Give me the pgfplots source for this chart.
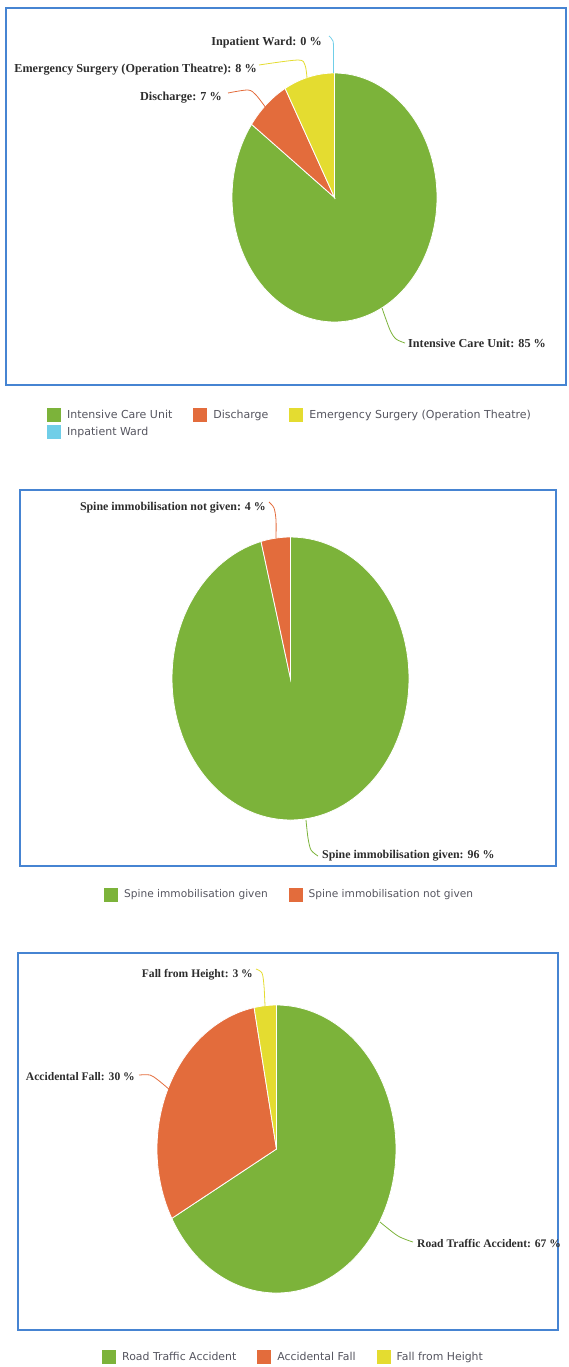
\documentclass[border=0pt]{standalone}
\usepackage{pgfplots}
\pgfplotsset{compat=1.18}
\usepackage{fontspec}
\setmainfont{Liberation Serif}
\newfontfamily\legfont{DejaVu Sans}

\definecolor{cGreen}{RGB}{124,179,58}
\definecolor{cOrange}{RGB}{227,108,60}
\definecolor{cYellow}{RGB}{228,220,48}
\definecolor{cCyan}{RGB}{112,206,232}
\definecolor{cBorder}{RGB}{70,132,210}
\definecolor{labtext}{RGB}{45,45,45}
\definecolor{legtext}{RGB}{85,85,95}

\newcommand{\lab}{\bfseries\fontsize{\labsize}{14}\selectfont}
% one slice: colour, start %, end %  (clockwise from 12 o'clock)
\newcommand{\slice}[3]{%
  \addplot[fill=#1, draw=white, line width=0.8pt, domain=#2*3.6:#3*3.6,
    samples=120, variable=\t]
    ({\cx+\rx*sin(\t)}, {\cy-\ry*cos(\t)}) -- (axis cs:\cx,\cy) -- cycle;}

\tikzset{lbl/.style={font=\lab, text=labtext, inner sep=0pt}}
\pgfplotsset{
  panel/.style={
    width=569pt, scale only axis, hide axis, clip=false,
    xmin=0, xmax=569, y dir=reverse, enlargelimits=false,
    anchor=north west,
    legend cell align=left,
    legend image code/.code={\path[##1,draw=none] (0pt,-7pt) rectangle (14pt,7pt);},
    legend style={draw=none, fill=none, anchor=north west, text=legtext,
      /tikz/every odd column/.append style={column sep=4pt},
      /tikz/every even column/.append style={column sep=19pt},
      row sep=3pt, inner sep=0pt},
  },
  lead/.style={forget plot, line width=0.8pt, smooth},
}

\begin{document}
\begin{tikzpicture}
\useasboundingbox (0,0) rectangle (569pt,-1367pt);

% ---------- chart 1: destination ----------
\def\cx{334.5}\def\cy{197.5}\def\rx{102.5}\def\ry{124.5}\def\labsize{12.2}
\begin{axis}[panel, at={(0pt,0pt)}, height=470pt, ymin=0, ymax=470,
  legend columns=3, legend style={at={(axis cs:47,408)},
    font=\legfont\fontsize{11}{12}\selectfont}]
  \draw[cBorder, line width=2pt] (axis cs:6,8) rectangle (axis cs:566,385);
  \slice{cGreen}{0}{85}   \addlegendentry{Intensive Care Unit}
  \slice{cOrange}{85}{92} \addlegendentry{Discharge}
  \slice{cYellow}{92}{100}\addlegendentry{Emergency Surgery (Operation Theatre)}
  \addlegendimage{fill=cCyan}\addlegendentry{Inpatient Ward}
  \addplot[lead, cCyan] coordinates {(329,36) (333,41) (333.5,52) (333.5,73)};
  \addplot[lead, cYellow] coordinates {(259,65) (298,60) (305,65) (307,78)};
  \addplot[lead, cOrange] coordinates {(228,93) (248,90) (256,95) (266,108)};
  \addplot[lead, cGreen] coordinates {(382,308) (390,330) (396,339) (405,343)};
  \node[lbl, anchor=east] at (axis cs:322,42.5) {Inpatient Ward: 0 \%};
  \node[lbl, anchor=east] at (axis cs:257,70) {Emergency Surgery (Operation Theatre): 8 \%};
  \node[lbl, anchor=east] at (axis cs:222,98) {Discharge: 7 \%};
  \node[lbl, anchor=west] at (axis cs:408,343.5) {Intensive Care Unit: 85 \%};
\end{axis}

% ---------- chart 2: spine immobilisation ----------
\def\cx{290.5}\def\cy{678.5}\def\rx{118.5}\def\ry{141.5}\def\labsize{11.9}
\begin{axis}[panel, at={(0pt,-470pt)}, height=460pt, ymin=470, ymax=930,
  legend columns=2, legend style={at={(axis cs:104,887.5)},
    font=\legfont\fontsize{10.6}{12}\selectfont}]
  \draw[cBorder, line width=2pt] (axis cs:20,490) rectangle (axis cs:556,866);
  \slice{cGreen}{0}{96}    \addlegendentry{Spine immobilisation given}
  \slice{cOrange}{96}{100} \addlegendentry{Spine immobilisation not given}
  \addplot[lead, cOrange] coordinates {(269,502) (274,508) (276,520) (276,538)};
  \addplot[lead, cGreen] coordinates {(306,820) (308,838) (311,850) (318,856)};
  \node[lbl, anchor=east] at (axis cs:266,508) {Spine immobilisation not given: 4 \%};
  \node[lbl, anchor=west] at (axis cs:322,856) {Spine immobilisation given: 96 \%};
\end{axis}

% ---------- chart 3: mechanism of injury ----------
\def\cx{276.5}\def\cy{1149}\def\rx{119.5}\def\ry{144}\def\labsize{11.6}
\begin{axis}[panel, at={(0pt,-930pt)}, height=437pt, ymin=930, ymax=1367,
  legend columns=3, legend style={at={(axis cs:102,1350)},
    font=\legfont\fontsize{10.9}{12}\selectfont}]
  \draw[cBorder, line width=2pt] (axis cs:18,953) rectangle (axis cs:558,1330);
  \slice{cGreen}{0}{67}    \addlegendentry{Road Traffic Accident}
  \slice{cOrange}{67}{97}  \addlegendentry{Accidental Fall}
  \slice{cYellow}{97}{100} \addlegendentry{Fall from Height}
  \addplot[lead, cYellow] coordinates {(256,969) (262,973) (264,986) (265,1006)};
  \addplot[lead, cOrange] coordinates {(139,1075) (150,1075) (158,1080) (170,1090)};
  \addplot[lead, cGreen] coordinates {(380,1222) (398,1236) (413,1242)};
  \node[lbl, anchor=east] at (axis cs:253,975) {Fall from Height: 3 \%};
  \node[lbl, anchor=east] at (axis cs:135,1077) {Accidental Fall: 30 \%};
  \node[lbl, anchor=west] at (axis cs:417,1243) {Road Traffic Accident: 67 \%};
\end{axis}
\end{tikzpicture}
\end{document}
